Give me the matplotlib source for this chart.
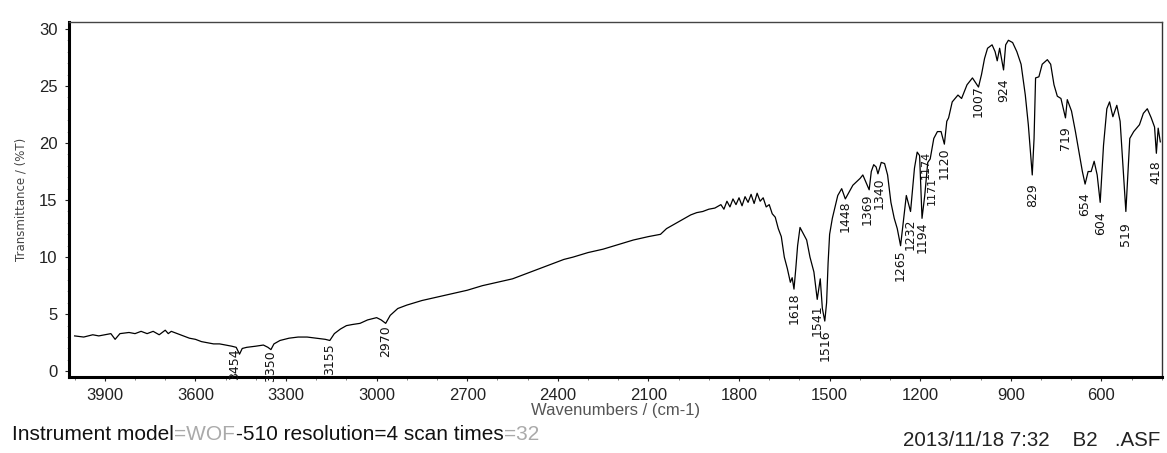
import matplotlib
matplotlib.use("Agg")
import matplotlib.pyplot as plt
import numpy as np
from matplotlib.ticker import MultipleLocator, FixedLocator

# ---------------- data ----------------
wavenumber = [
    4000, 3970, 3940, 3920, 3900, 3880, 3866, 3850, 3820, 3800, 3780, 3760, 3740,
    3720, 3700, 3690, 3680, 3660, 3640, 3620, 3600, 3580, 3560, 3540, 3520, 3500,
    3480, 3465, 3454, 3445, 3430, 3400, 3375, 3360, 3350, 3340, 3320, 3290, 3260,
    3230, 3200, 3170, 3155, 3140, 3120, 3100, 3080, 3055, 3030, 3000, 2985, 2970,
    2955, 2930, 2900, 2850, 2800, 2750, 2700, 2650, 2600, 2550, 2500, 2450, 2400,
    2380, 2350, 2300, 2250, 2200, 2150, 2100, 2060, 2040, 2020, 2000, 1980, 1960,
    1940, 1920, 1900, 1880, 1860, 1850, 1840, 1830, 1820, 1810, 1800, 1790, 1780,
    1770, 1760, 1750, 1740, 1730, 1720, 1710, 1700, 1690, 1680, 1670, 1660, 1650,
    1640, 1630, 1624, 1618, 1612, 1606, 1598, 1590, 1576, 1565, 1552, 1541, 1531,
    1524, 1516, 1510, 1505, 1500, 1491, 1473, 1460, 1448, 1423, 1399, 1390, 1369,
    1362, 1354, 1346, 1340, 1329, 1318, 1308, 1297, 1286, 1276, 1265, 1246, 1232,
    1219, 1210, 1202, 1194, 1185, 1175, 1167, 1155, 1143, 1131, 1120, 1112, 1106,
    1094, 1075, 1063, 1045, 1027, 1007, 997, 987, 977, 962, 952, 945, 937, 924,
    917, 908, 894, 880, 866, 852, 842, 834, 829, 823, 818, 807, 796, 779, 768,
    757, 746, 734, 719, 713, 699, 686, 672, 663, 654, 644, 634, 624, 614, 604,
    593, 582, 573, 562, 549, 538, 530, 519, 506, 493, 474, 461, 448, 435, 424,
    418, 412, 405,
]
transmittance = [
    3.1, 3.0, 3.2, 3.1, 3.2, 3.3, 2.8, 3.3, 3.4, 3.3, 3.5, 3.3, 3.5,
    3.2, 3.6, 3.3, 3.5, 3.3, 3.1, 2.9, 2.8, 2.6, 2.5, 2.4, 2.4, 2.3,
    2.2, 2.1, 1.5, 2.0, 2.1, 2.2, 2.3, 2.1, 1.9, 2.4, 2.7, 2.9, 3.0,
    3.0, 2.9, 2.8, 2.7, 3.3, 3.7, 4.0, 4.1, 4.2, 4.5, 4.7, 4.5, 4.2,
    4.9, 5.5, 5.8, 6.2, 6.5, 6.8, 7.1, 7.5, 7.8, 8.1, 8.6, 9.1, 9.6,
    9.8, 10.0, 10.4, 10.7, 11.1, 11.5, 11.8, 12.0, 12.5, 12.8, 13.1, 13.4, 13.7,
    13.9, 14.0, 14.2, 14.3, 14.6, 14.2, 14.9, 14.4, 15.1, 14.6, 15.2, 14.5, 15.3,
    14.8, 15.5, 14.7, 15.6, 14.9, 15.2, 14.4, 14.6, 13.8, 13.5, 12.5, 11.8, 10.0,
    9.0, 7.8, 8.2, 7.2, 9.0, 11.0, 12.6, 12.2, 11.5, 10.0, 8.7, 6.3, 8.1,
    5.5, 4.4, 6.0, 9.5, 12.0, 13.4, 15.4, 16.0, 15.1, 16.3, 16.9, 17.2, 15.9,
    17.5, 18.1, 17.9, 17.3, 18.3, 18.2, 17.2, 14.8, 13.4, 12.5, 11.0, 15.4, 14.0,
    17.8, 19.2, 18.9, 13.4, 15.4, 18.3, 18.6, 20.4, 21.0, 21.0, 19.9, 21.9, 22.2,
    23.6, 24.2, 23.9, 25.1, 25.7, 24.9, 26.0, 27.4, 28.3, 28.6, 28.0, 27.2, 28.3, 26.4,
    28.6, 29.0, 28.8, 28.0, 26.9, 24.2, 21.6, 18.9, 17.2, 20.4, 25.7, 25.8, 26.9, 27.3, 26.9,
    25.1, 24.1, 23.9, 22.2, 23.8, 22.8, 21.0, 18.9, 17.5, 16.4, 17.5, 17.5, 18.4, 17.2, 14.8,
    19.8, 23.0, 23.6, 22.3, 23.3, 21.9, 18.6, 14.0, 20.4, 21.0, 21.6, 22.6, 23.0, 22.2, 21.4,
    19.1, 21.3, 20.1,
]

peak_labels = ["3454", "3350", "3155", "2970", "1618", "1541", "1516", "1448",
               "1369", "1340", "1265", "1232", "1194", "1174", "1171", "1120",
               "1007", "924", "829", "719", "654", "604", "519", "418"]
peak_wn = [3470, 3350, 3155, 2970, 1618, 1541, 1516, 1448,
           1374, 1335, 1265, 1232, 1194, 1180, 1160, 1120,
           1007, 924, 829, 719, 654, 604, 519, 418]
peak_label_top = [2.0, 1.85, 2.5, 4.0, 6.9, 5.9, 3.7, 15.0,
                  15.6, 17.0, 10.7, 13.4, 13.1, 19.3, 17.0, 19.6,
                  25.1, 25.7, 16.5, 21.5, 15.7, 14.0, 13.1, 18.5]

x_ticks = [3900, 3600, 3300, 3000, 2700, 2400, 2100, 1800, 1500, 1200, 900, 600]
y_ticks = [0, 5, 10, 15, 20, 25, 30]

# ---------------- figure ----------------
W, H = 1167, 453
fig = plt.figure(figsize=(W / 100, H / 100), dpi=100)
fig.patch.set_facecolor("white")

ax_l, ax_r, ax_t, ax_b = 68.6, 1161.8, 22, 377
ax = fig.add_axes([ax_l / W, 1 - ax_b / H, (ax_r - ax_l) / W, (ax_b - ax_t) / H])

ax.plot(wavenumber, transmittance, color="black", lw=0.9)
ax.set_xlim(4020, 400)
ax.set_ylim(-0.5, 30.6)

narrow = ["Liberation Sans Narrow", "DejaVu Sans"]
for lab, wn, top in zip(peak_labels, peak_wn, peak_label_top):
    fs = 8 if lab in ("1174", "1171") else 9
    ax.text(wn, top, lab, rotation=90, ha="center", va="top",
            fontsize=fs, family=narrow, color="#111111")

ax.xaxis.set_major_locator(FixedLocator(x_ticks))
ax.xaxis.set_minor_locator(MultipleLocator(100))
ax.yaxis.set_major_locator(FixedLocator(y_ticks))
ax.yaxis.set_minor_locator(MultipleLocator(1))
ax.tick_params(axis="x", which="major", direction="out", length=3, width=0.8,
               pad=5, labelsize=12, colors="#222222")
ax.tick_params(axis="x", which="minor", direction="out", length=2, width=0.6,
               color="#666666")
ax.tick_params(axis="y", which="major", direction="out", length=3, width=0.8,
               pad=5, labelsize=12, colors="#222222")
ax.tick_params(axis="y", which="minor", direction="out", length=1.5, width=0.5,
               color="#888888")
for t in ax.get_xticklabels() + ax.get_yticklabels():
    t.set_family("Liberation Sans")

ax.spines["left"].set_linewidth(2.2)
ax.spines["bottom"].set_linewidth(2.2)
ax.spines["top"].set_linewidth(1.0)
ax.spines["top"].set_color("#444444")
ax.spines["right"].set_linewidth(1.0)
ax.spines["right"].set_color("#333333")

ax.set_xlabel("Wavenumbers / (cm-1)", fontsize=12, family="Liberation Sans",
              color="#555555", labelpad=0)
ax.set_ylabel("Transmittance / (%T)", fontsize=8.5, family=narrow,
              color="#444444", labelpad=8)

# ---------------- footer text (multi-colour pieces) ----------------
fig.canvas.draw()
renderer = fig.canvas.get_renderer()
pieces = [("Instrument model", "#111111"), ("=WOF", "#aaaaaa"),
          ("-510 resolution=4 scan times", "#111111"), ("=32", "#aaaaaa")]
x0 = 12
y0 = 1 - 434 / H
for txt, col in pieces:
    t = fig.text(x0 / W, y0, txt, fontsize=15, family="Liberation Sans",
                 color=col, ha="left", va="center")
    bb = t.get_window_extent(renderer=renderer)
    x0 = bb.x1 + 0.5

fig.text(1160 / W, 1 - 441 / H, "2013/11/18 7:32    B2   .ASF", fontsize=14.8,
         family="Liberation Sans", color="#222222", ha="right", va="center")

fig.savefig("out.png", dpi=100, facecolor="white")
